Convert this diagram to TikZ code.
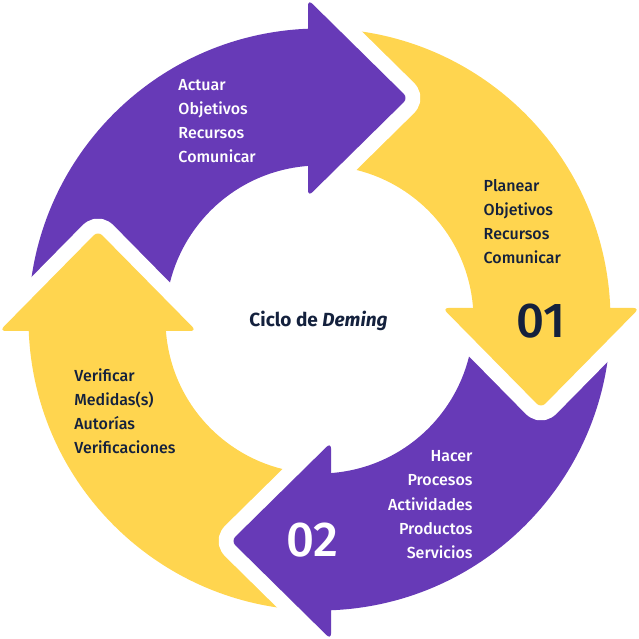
\documentclass[tikz,border=0pt]{standalone}
\usepackage{fontspec}
\setmainfont{Fira Sans}[UprightFont=* Medium, BoldFont=* Bold, ItalicFont=* Medium Italic, BoldItalicFont=* Bold Italic]
\definecolor{purp}{HTML}{673AB7}
\definecolor{yel}{HTML}{FFD54F}
\definecolor{navy}{HTML}{14213D}
\tikzset{
  lbl/.style={inner sep=0pt, font=\fontsize{16}{19}\selectfont},
  lblw/.style={lbl, text=white},
  lbln/.style={lbl, text=navy},
  bignum/.style={inner sep=0pt, anchor=base, font=\fontsize{49}{55}\selectfont},
  ttl/.style={inner sep=0pt, anchor=base, text=navy, font=\fontsize{19}{22}\selectfont\bfseries},
  gapline/.style={draw=white, line width=30pt, line join=round, line cap=round, rounded corners=6pt},
  headfill/.style={rounded corners=6pt}
}
\begin{document}
\begin{tikzpicture}[x=1pt,y=1pt]
\useasboundingbox (-319.5,-319.5) rectangle (319.5,319.5);
\def\ro{291}\def\ri{154}
\pgfmathsetmacro\ao{acos(-11.5/291)}
\pgfmathsetmacro\ai{acos(-11.5/154)}
% bands
\foreach \rot/\col in {0/purp,-90/yel,-180/purp,-270/yel}{
  \begin{scope}[rotate=\rot]
    \fill[\col] (180:\ro) arc[start angle=180,end angle=\ao,radius=\ro]
      -- (\ai:\ri) arc[start angle=\ai,end angle=180,radius=\ri] -- cycle;
  \end{scope}
}
% heads
\foreach \rot/\col in {0/purp,-90/yel,-180/purp,-270/yel}{
  \begin{scope}[rotate=\rot]
    \coordinate (w1) at (-11.5,320);
    \coordinate (tip) at (88.5,221.5);
    \coordinate (w2) at (-11.5,123);
    \draw[gapline] (w1) -- (tip) -- (w2);
    \fill[\col, headfill] (w1) -- (tip) -- (w2) -- cycle;
  \end{scope}
}
% texts top (Actuar)
\node[lblw, anchor=base west] (a1) at (-141.2,228.8) {Actuar};
\node[lblw, anchor=base west] (a2) at (-141.2,204.8) {Objetivos};
\node[lblw, anchor=base west] (a3) at (-141.2,180.8) {Recursos};
\node[lblw, anchor=base west] (a4) at (-141.2,156.8) {Comunicar};
% right (Planear)
\node[lbln, anchor=base west] (p1) at (164,127.9) {Planear};
\node[lbln, anchor=base west] (p2) at (164,103.9) {Objetivos};
\node[lbln, anchor=base west] (p3) at (164,79.9) {Recursos};
\node[lbln, anchor=base west] (p4) at (164,55.9) {Comunicar};
% bottom (Hacer)
\node[lblw, anchor=base east] (h1) at (153.2,-142.2) {Hacer};
\node[lblw, anchor=base east] (h2) at (153.2,-166.3) {Procesos};
\node[lblw, anchor=base east] (h3) at (153.2,-190.5) {Actividades};
\node[lblw, anchor=base east] (h4) at (153.2,-214.6) {Productos};
\node[lblw, anchor=base east] (h5) at (153.2,-238.8) {Servicios};
% left (Verificar)
\node[lbln, anchor=base west] (v1) at (-245.3,-61.7) {Verificar};
\node[lbln, anchor=base west] (v2) at (-245.3,-85.7) {Medidas(s)};
\node[lbln, anchor=base west] (v3) at (-245.3,-109.7) {Autorías};
\node[lbln, anchor=base west] (v4) at (-245.3,-133.7) {Verificaciones};
% numbers
\node[bignum, text=navy] (n1) at (221,-18.5) {01};
\node[bignum, text=white] (n2) at (-7.2,-236.5) {02};
% title
\node[ttl] (title) at (-1,-7.2) {Ciclo de \textit{Deming}};
\end{tikzpicture}
\end{document}
